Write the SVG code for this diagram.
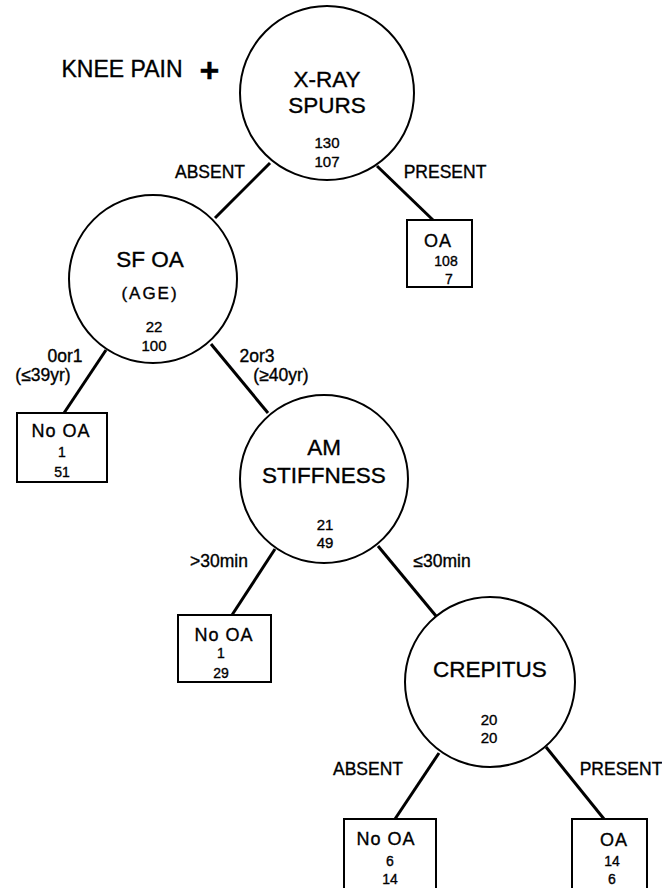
<svg xmlns="http://www.w3.org/2000/svg" width="662" height="888" viewBox="0 0 662 888">
<style>
  text { font-family: "Liberation Sans", Arial, Helvetica, sans-serif; fill: #000; stroke: #000; stroke-width: 0.35px; text-anchor: middle; }
  .title { font-size: 22.5px; }
  .cnt { font-size: 15px; }
  .bcnt { font-size: 14px; }
  .blbl { font-size: 18px; letter-spacing: 1px; }
  .elbl { font-size: 17.5px; }
  .node { fill: #fff; stroke: #000; stroke-width: 2; }
  .edge { stroke: #000; stroke-width: 3; stroke-linecap: butt; }
</style>
<rect width="662" height="888" fill="#fff"/>

<g id="connectors">
  <line class="edge" x1="270" y1="163" x2="215" y2="218"/>
  <line class="edge" x1="377" y1="166" x2="433" y2="220"/>
  <line class="edge" x1="106" y1="350" x2="64" y2="413"/>
  <line class="edge" x1="211" y1="344" x2="268" y2="413"/>
  <line class="edge" x1="275" y1="549" x2="232" y2="615"/>
  <line class="edge" x1="378" y1="546" x2="436" y2="616"/>
  <line class="edge" x1="439" y1="753" x2="395" y2="819"/>
  <line class="edge" x1="546" y1="747" x2="604" y2="819"/>
</g>

<g id="edge-labels">
  <text class="elbl" x="210" y="178">ABSENT</text>
  <text class="elbl" x="445" y="178">PRESENT</text>
  <text class="elbl" x="65" y="362">0or1</text>
  <text class="elbl" x="43" y="381">(≤39yr)</text>
  <text class="elbl" x="257" y="362">2or3</text>
  <text class="elbl" x="281" y="381">(≥40yr)</text>
  <text class="elbl" x="219" y="567">&gt;30min</text>
  <text class="elbl" x="442" y="567">≤30min</text>
  <text class="elbl" x="368" y="775">ABSENT</text>
  <text class="elbl" x="621" y="775">PRESENT</text>
</g>

<g id="title">
  <text x="122" y="77" style="font-size:23px">KNEE PAIN</text>
  <text x="209.5" y="82" style="font-size:34px;font-weight:bold">+</text>
</g>

<g id="node-xray">
  <circle class="node" cx="327" cy="93" r="87"/>
  <text class="title" x="327" y="87">X-RAY</text>
  <text class="title" x="327" y="113">SPURS</text>
  <text class="cnt" x="327" y="148">130</text>
  <text class="cnt" x="327" y="167">107</text>
</g>

<g id="node-oa-1">
  <rect class="node" x="407" y="220" width="65" height="67"/>
  <text class="blbl" x="438" y="247">OA</text>
  <text class="bcnt" x="446" y="266">108</text>
  <text class="bcnt" x="449" y="284">7</text>
</g>

<g id="node-sfoa">
  <circle class="node" cx="153" cy="279" r="84"/>
  <text class="title" x="150" y="267">SF OA</text>
  <text x="150" y="299" style="font-size:17px;letter-spacing:2px">(AGE)</text>
  <text class="cnt" x="154" y="332">22</text>
  <text class="cnt" x="154" y="351">100</text>
</g>

<g id="node-nooa-1">
  <rect class="node" x="17" y="413" width="90" height="69"/>
  <text class="blbl" x="61" y="437">No OA</text>
  <text class="bcnt" x="62" y="457">1</text>
  <text class="bcnt" x="62" y="477">51</text>
</g>

<g id="node-amstiff">
  <circle class="node" cx="324" cy="479" r="84"/>
  <text class="title" x="324" y="455">AM</text>
  <text class="title" x="324" y="483">STIFFNESS</text>
  <text class="cnt" x="325" y="530">21</text>
  <text class="cnt" x="325" y="548">49</text>
</g>

<g id="node-nooa-2">
  <rect class="node" x="178" y="615" width="93" height="67"/>
  <text class="blbl" x="224" y="641">No OA</text>
  <text class="bcnt" x="221" y="658">1</text>
  <text class="bcnt" x="221" y="678">29</text>
</g>

<g id="node-crepitus">
  <circle class="node" cx="490" cy="682" r="85"/>
  <text class="title" x="490" y="677">CREPITUS</text>
  <text class="cnt" x="489" y="725">20</text>
  <text class="cnt" x="489" y="743">20</text>
</g>

<g id="node-nooa-3">
  <rect class="node" x="344" y="819" width="92" height="75"/>
  <text class="blbl" x="386" y="845">No OA</text>
  <text class="bcnt" x="390" y="866">6</text>
  <text class="bcnt" x="390" y="884">14</text>
</g>

<g id="node-oa-2">
  <rect class="node" x="572" y="819" width="75" height="75"/>
  <text class="blbl" x="614" y="846">OA</text>
  <text class="bcnt" x="612" y="866">14</text>
  <text class="bcnt" x="612" y="884">6</text>
</g>
</svg>
